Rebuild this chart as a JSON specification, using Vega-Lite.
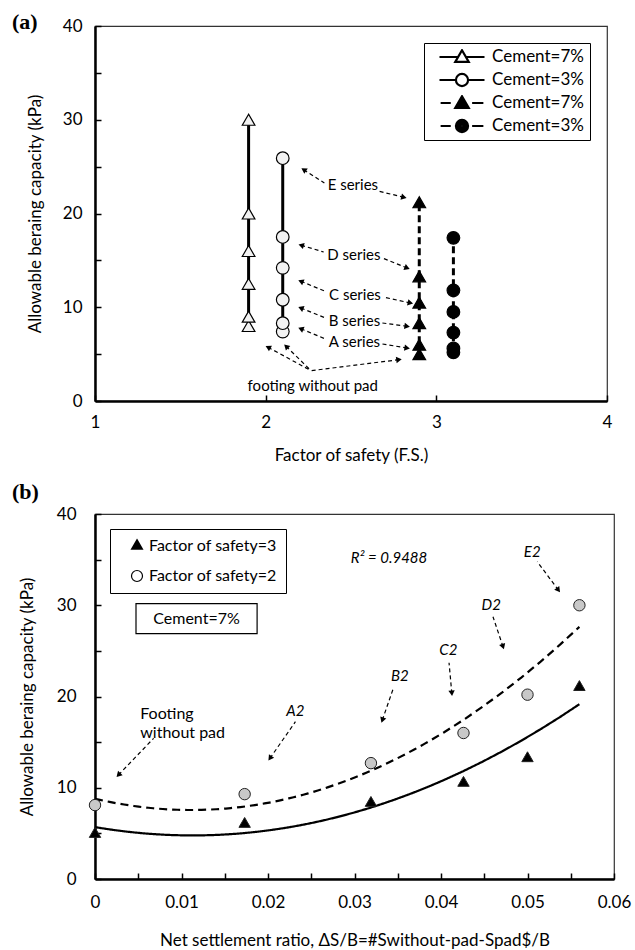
{
  "$schema": "https://vega.github.io/schema/vega-lite/v6.json",
  "background": "white",
  "padding": {"left": 11, "top": 10, "right": 5, "bottom": 5},
  "spacing": 16,
  "config": {
    "font": "Lato",
    "view": {"stroke": "#333333", "strokeWidth": 1.2},
    "axis": {
      "grid": false, "domainColor": "black", "domainWidth": 2.5,
      "tickColor": "black", "tickWidth": 1.5, "tickSize": -6,
      "labelFont": "Lato", "labelFontSize": 17, "labelColor": "black",
      "titleFont": "Lato", "titleFontSize": 17, "titleFontWeight": "normal", "titleColor": "black"
    },
    "legend": {"labelFont": "Lato", "labelColor": "black"}
  },
  "datasets": {
    "a_pts": [
      {"fs": 1.9, "cap": 8, "series": "7%|FS2"},
      {"fs": 1.9, "cap": 9, "series": "7%|FS2"},
      {"fs": 1.9, "cap": 12.5, "series": "7%|FS2"},
      {"fs": 1.9, "cap": 16, "series": "7%|FS2"},
      {"fs": 1.9, "cap": 20, "series": "7%|FS2"},
      {"fs": 1.9, "cap": 30, "series": "7%|FS2"},
      {"fs": 2.1, "cap": 7.4, "series": "3%|FS2"},
      {"fs": 2.1, "cap": 8.3, "series": "3%|FS2"},
      {"fs": 2.1, "cap": 10.8, "series": "3%|FS2"},
      {"fs": 2.1, "cap": 14.2, "series": "3%|FS2"},
      {"fs": 2.1, "cap": 17.5, "series": "3%|FS2"},
      {"fs": 2.1, "cap": 25.9, "series": "3%|FS2"},
      {"fs": 2.9, "cap": 5, "series": "7%|FS3"},
      {"fs": 2.9, "cap": 6, "series": "7%|FS3"},
      {"fs": 2.9, "cap": 8.3, "series": "7%|FS3"},
      {"fs": 2.9, "cap": 10.5, "series": "7%|FS3"},
      {"fs": 2.9, "cap": 13.3, "series": "7%|FS3"},
      {"fs": 2.9, "cap": 21.2, "series": "7%|FS3"},
      {"fs": 3.1, "cap": 5.2, "series": "3%|FS3"},
      {"fs": 3.1, "cap": 5.6, "series": "3%|FS3"},
      {"fs": 3.1, "cap": 7.3, "series": "3%|FS3"},
      {"fs": 3.1, "cap": 9.5, "series": "3%|FS3"},
      {"fs": 3.1, "cap": 11.8, "series": "3%|FS3"},
      {"fs": 3.1, "cap": 17.4, "series": "3%|FS3"}
    ],
    "a_leg": [
      {"leg": "Cement=7%|1"},
      {"leg": "Cement=3%|2"},
      {"leg": "Cement=7%|3"},
      {"leg": "Cement=3%|4"}
    ],
    "b_leg": [
      {"leg": "Factor of safety=3|5"},
      {"leg": "Factor of safety=2|6"}
    ],
    "a_arrows": [
      {"fs": 2.223, "cap": 24.67, "fs2": 2.344, "cap2": 23.25},
      {"fs": 2.810, "cap": 21.73, "fs2": 2.664, "cap2": 22.37},
      {"fs": 2.208, "cap": 16.61, "fs2": 2.340, "cap2": 15.89},
      {"fs": 2.829, "cap": 14.19, "fs2": 2.684, "cap2": 15.25},
      {"fs": 2.206, "cap": 12.77, "fs2": 2.346, "cap2": 11.73},
      {"fs": 2.848, "cap": 10.45, "fs2": 2.689, "cap2": 11.09},
      {"fs": 2.206, "cap": 9.92, "fs2": 2.351, "cap2": 8.85},
      {"fs": 2.829, "cap": 7.97, "fs2": 2.684, "cap2": 8.32},
      {"fs": 2.206, "cap": 7.71, "fs2": 2.351, "cap2": 6.61},
      {"fs": 2.829, "cap": 5.65, "fs2": 2.684, "cap2": 6.08},
      {"fs": 2.014, "cap": 5.73, "fs2": 2.266, "cap2": 3.23},
      {"fs": 2.120, "cap": 5.83, "fs2": 2.266, "cap2": 3.23},
      {"fs": 2.781, "cap": 4.41, "fs2": 2.266, "cap2": 3.23}
    ],
    "a_text": [
      {"fs": 2.511, "cap": 23.0, "label": "E series"},
      {"fs": 2.517, "cap": 15.6, "label": "D series"},
      {"fs": 2.523, "cap": 11.34, "label": "C series"},
      {"fs": 2.520, "cap": 8.5, "label": "B series"},
      {"fs": 2.520, "cap": 6.29, "label": "A series"},
      {"fs": 2.276, "cap": 1.57, "label": "footing without pad"}
    ],
    "b_pts": [
      {"ratio": 0, "cap": 5.1, "group": "Factor of safety=3"},
      {"ratio": 0.0173, "cap": 6.2, "group": "Factor of safety=3"},
      {"ratio": 0.0319, "cap": 8.5, "group": "Factor of safety=3"},
      {"ratio": 0.0426, "cap": 10.7, "group": "Factor of safety=3"},
      {"ratio": 0.05, "cap": 13.4, "group": "Factor of safety=3"},
      {"ratio": 0.056, "cap": 21.2, "group": "Factor of safety=3"},
      {"ratio": 0, "cap": 8.1, "group": "Factor of safety=2"},
      {"ratio": 0.0173, "cap": 9.3, "group": "Factor of safety=2"},
      {"ratio": 0.0319, "cap": 12.7, "group": "Factor of safety=2"},
      {"ratio": 0.0426, "cap": 16.0, "group": "Factor of safety=2"},
      {"ratio": 0.05, "cap": 20.2, "group": "Factor of safety=2"},
      {"ratio": 0.056, "cap": 30.0, "group": "Factor of safety=2"}
    ],
    "b_arrows": [
      {"ratio": 0.00271, "cap": 11.40, "ratio2": 0.00678, "cap2": 15.42},
      {"ratio": 0.02023, "cap": 13.23, "ratio2": 0.02317, "cap2": 17.24},
      {"ratio": 0.03322, "cap": 17.42, "ratio2": 0.03445, "cap2": 20.79},
      {"ratio": 0.04125, "cap": 20.35, "ratio2": 0.04093, "cap2": 23.70},
      {"ratio": 0.04717, "cap": 25.46, "ratio2": 0.04601, "cap2": 28.74},
      {"ratio": 0.05357, "cap": 31.67, "ratio2": 0.05113, "cap2": 34.77}
    ],
    "b_text_it": [
      {"ratio": 0.02317, "cap": 18.44, "label": "A2"},
      {"ratio": 0.03523, "cap": 22.25, "label": "B2"},
      {"ratio": 0.04085, "cap": 25.10, "label": "C2"},
      {"ratio": 0.04581, "cap": 30.03, "label": "D2"},
      {"ratio": 0.05055, "cap": 35.87, "label": "E2"},
      {"ratio": 0.03399, "cap": 35.15, "label": "R² = 0.9488"}
    ],
    "b_text": [
      {"ratio": 0.00523, "cap": 18.08, "label": "Footing\nwithout pad"}
    ],
    "b_box": [
      {"ratio": 0.00474, "ratio2": 0.01874, "cap": 30.17, "cap2": 26.88}
    ],
    "b_box_text": [
      {"ratio": 0.01174, "cap": 28.52, "label": "Cement=7%"}
    ]
  },
  "vconcat": [
    {
      "width": 512,
      "height": 375,
      "title": {"text": "(a)", "anchor": "start", "frame": "group", "orient": "top", "offset": 0, "dx": -83, "dy": 39, "baseline": "bottom", "font": "Liberation Serif", "fontWeight": "bold", "fontSize": 22, "color": "black"},
      "encoding": {
        "x": {"field": "fs", "type": "quantitative", "scale": {"domain": [1, 4], "nice": false, "zero": false},
              "axis": {"values": [1, 2, 3, 4], "format": "d", "title": "Factor of safety (F.S.)", "labelFlush": false, "labelPadding": 19, "titlePadding": 17}},
        "y": {"field": "cap", "type": "quantitative", "scale": {"domain": [0, 40], "nice": false},
              "axis": {"values": [0, 5, 10, 15, 20, 25, 30, 35, 40], "labelExpr": "datum.value % 10 == 0 ? datum.label : ''", "title": "Allowable beraing capacity (kPa)", "labelPadding": 19, "titlePadding": 18}}
      },
      "layer": [
        {
          "data": {"name": "a_pts"},
          "mark": {"type": "line", "color": "black", "strokeWidth": 3},
          "encoding": {
            "detail": {"field": "series", "type": "nominal"},
            "order": {"field": "cap", "type": "quantitative"},
            "strokeDash": {"field": "series", "type": "nominal",
              "scale": {"domain": ["7%|FS2", "3%|FS2", "7%|FS3", "3%|FS3", "Factor of safety=3", "Factor of safety=2"],
                        "range": [[1, 0], [1, 0], [7, 4], [7, 4], [1, 0], [8, 5]]}, "legend": null}
          }
        },
        {
          "data": {"name": "a_pts"},
          "transform": [{"filter": "datum.series == '7%|FS2' || datum.series == '7%|FS3'"}],
          "mark": {"type": "point", "shape": "triangle-up", "filled": true, "opacity": 1, "stroke": "black", "strokeWidth": 1.2, "size": 160},
          "encoding": {
            "color": {"field": "series", "type": "nominal",
              "scale": {"domain": ["7%|FS2", "3%|FS2", "7%|FS3", "3%|FS3"], "range": ["#f2f2f2", "#f2f2f2", "black", "black"]}, "legend": null}
          }
        },
        {
          "data": {"name": "a_pts"},
          "transform": [{"filter": "datum.series == '3%|FS2' || datum.series == '3%|FS3'"}],
          "mark": {"type": "point", "shape": "circle", "filled": true, "opacity": 1, "stroke": "black", "strokeWidth": 1.2, "size": 160},
          "encoding": {
            "color": {"field": "series", "type": "nominal",
              "scale": {"domain": ["7%|FS2", "3%|FS2", "7%|FS3", "3%|FS3"], "range": ["#f2f2f2", "#f2f2f2", "black", "black"]}, "legend": null}
          }
        },
        {
          "data": {"name": "a_leg"},
          "mark": {"type": "point", "filled": false, "opacity": 1, "color": "black", "strokeWidth": 2.2},
          "encoding": {
            "shape": {"field": "leg", "type": "nominal",
              "scale": {"domain": ["Cement=7%|1", "Cement=3%|2", "Cement=7%|3", "Cement=3%|4", "Factor of safety=3|5", "Factor of safety=2|6"],
                        "range": [
                          "M-1,0H-0.18M0.18,0H1M0,-0.3L0.3,0.22L-0.3,0.22Z",
                          "M-1,0H-0.27M0.27,0H1M0.27,0A0.27,0.27,0,1,1,-0.27,0A0.27,0.27,0,1,1,0.27,0Z",
                          "M-0.95,0H-0.5M0.45,0H0.95M0,-0.3L0.3,0.22L-0.3,0.22ZM0,-0.179L0.195,0.159L-0.195,0.159ZM0,-0.074L0.105,0.108L-0.105,0.108ZM0,0.012L0.03,0.064L-0.03,0.064Z",
                          "M-0.95,0H-0.5M0.45,0H0.95M0.27,0A0.27,0.27,0,1,1,-0.27,0A0.27,0.27,0,1,1,0.27,0ZM0.19,0A0.19,0.19,0,1,1,-0.19,0A0.19,0.19,0,1,1,0.19,0ZM0.11,0A0.11,0.11,0,1,1,-0.11,0A0.11,0.11,0,1,1,0.11,0ZM0.04,0A0.04,0.04,0,1,1,-0.04,0A0.04,0.04,0,1,1,0.04,0Z",
                          "M0,-1.155L1,0.577L-1,0.577ZM0,-0.808L0.7,0.404L-0.7,0.404ZM0,-0.462L0.4,0.231L-0.4,0.231ZM0,-0.116L0.1,0.058L-0.1,0.058Z",
                          "M1,0A1,1,0,1,1,-1,0A1,1,0,1,1,1,0Z"
                        ]},
              "legend": {
                "title": null, "orient": "top-right", "offset": 17, "padding": 6,
                "values": ["Cement=7%|1", "Cement=3%|2", "Cement=7%|3", "Cement=3%|4"],
                "strokeColor": "black", "fillColor": "white",
                "symbolSize": 2025, "symbolOffset": 8, "clipHeight": 16, "rowPadding": 6,
                "symbolStrokeWidth": 2.2, "symbolOpacity": 1,
                "labelOffset": 6, "labelFontSize": 17, "labelFont": "Lato", "labelColor": "black",
                "labelExpr": "split(datum.label, '|')[0]"
              }}
          }
        },
        {
          "data": {"name": "a_arrows"},
          "mark": {"type": "rule", "color": "black", "strokeWidth": 1.2, "strokeDash": [4, 3]},
          "encoding": {
            "x2": {"field": "fs2"},
            "y2": {"field": "cap2"}
          }
        },
        {
          "data": {"name": "a_arrows"},
          "transform": [{"calculate": "atan2((datum.fs - datum.fs2) * 170.67, (datum.cap - datum.cap2) * 9.375) * 180 / PI", "as": "ang"}],
          "mark": {"type": "point", "shape": "triangle-up", "filled": true, "color": "black", "size": 40, "opacity": 1},
          "encoding": {
            "angle": {"field": "ang", "type": "quantitative", "scale": null}
          }
        },
        {
          "data": {"name": "a_text"},
          "mark": {"type": "text", "font": "Lato", "fontSize": 15, "color": "black", "align": "center", "baseline": "middle"},
          "encoding": {"text": {"field": "label"}}
        }
      ]
    },
    {
      "width": 519,
      "height": 365,
      "title": {"text": "(b)", "anchor": "start", "frame": "group", "orient": "top", "offset": 0, "dx": -83, "dy": 21, "baseline": "bottom", "font": "Liberation Serif", "fontWeight": "bold", "fontSize": 22, "color": "black"},
      "encoding": {
        "x": {"field": "ratio", "type": "quantitative", "scale": {"domain": [0, 0.06], "nice": false},
              "axis": {"values": [0, 0.005, 0.01, 0.015, 0.02, 0.025, 0.03, 0.035, 0.04, 0.045, 0.05, 0.055, 0.06], "format": ".2~f",
                       "labelExpr": "round(datum.value * 1000) % 10 == 0 ? datum.label : ''", "labelFlush": false,
                       "title": "Net settlement ratio,  ΔS/B=#Swithout-pad-Spad$/B", "labelPadding": 21, "titlePadding": 22}},
        "y": {"field": "cap", "type": "quantitative", "scale": {"domain": [0, 40], "nice": false},
              "axis": {"values": [0, 5, 10, 15, 20, 25, 30, 35, 40], "labelExpr": "datum.value % 10 == 0 ? datum.label : ''", "title": "Allowable beraing capacity (kPa)", "labelPadding": 25, "titlePadding": 20}}
      },
      "layer": [
        {
          "data": {"name": "b_pts"},
          "transform": [{"regression": "cap", "on": "ratio", "groupby": ["group"], "method": "poly", "order": 2, "extent": [0, 0.056]}],
          "mark": {"type": "line", "color": "black", "strokeWidth": 2.2},
          "encoding": {
            "strokeDash": {"field": "group", "type": "nominal",
              "scale": {"domain": ["7%|FS2", "3%|FS2", "7%|FS3", "3%|FS3", "Factor of safety=3", "Factor of safety=2"],
                        "range": [[1, 0], [1, 0], [7, 4], [7, 4], [1, 0], [8, 5]]}, "legend": null}
          }
        },
        {
          "data": {"name": "b_pts"},
          "transform": [{"filter": "datum.group == 'Factor of safety=3'"}],
          "mark": {"type": "point", "shape": "triangle-up", "filled": true, "opacity": 1, "fill": "black", "stroke": "#222222", "strokeWidth": 1, "size": 130}
        },
        {
          "data": {"name": "b_pts"},
          "transform": [{"filter": "datum.group == 'Factor of safety=2'"}],
          "mark": {"type": "point", "shape": "circle", "filled": true, "opacity": 1, "fill": "#c8c8c8", "stroke": "#222222", "strokeWidth": 1, "size": 130}
        },
        {
          "data": {"name": "b_leg"},
          "mark": {"type": "point", "filled": false, "opacity": 1, "color": "black", "strokeWidth": 1.2},
          "encoding": {
            "shape": {"field": "leg", "type": "nominal",
              "legend": {"title": null, "orient": "top-left", "offset": 15, "padding": 9, "strokeColor": "black", "fillColor": "white",
                         "values": ["Factor of safety=3|5", "Factor of safety=2|6"],
                         "symbolSize": 121, "symbolOffset": 10, "rowPadding": 14, "labelOffset": 4, "labelFontSize": 16, "labelFont": "Lato", "labelColor": "black",
                         "symbolFillColor": "#c8c8c8", "symbolStrokeWidth": 1.2, "symbolOpacity": 1,
                         "labelExpr": "split(datum.label, '|')[0]"}}
          }
        },
        {
          "data": {"name": "b_arrows"},
          "mark": {"type": "rule", "color": "black", "strokeWidth": 1.2, "strokeDash": [4, 3]},
          "encoding": {
            "x2": {"field": "ratio2"},
            "y2": {"field": "cap2"}
          }
        },
        {
          "data": {"name": "b_arrows"},
          "transform": [{"calculate": "atan2((datum.ratio - datum.ratio2) * 8650, (datum.cap - datum.cap2) * 9.125) * 180 / PI", "as": "ang"}],
          "mark": {"type": "point", "shape": "triangle-up", "filled": true, "color": "black", "size": 40, "opacity": 1},
          "encoding": {
            "angle": {"field": "ang", "type": "quantitative", "scale": null}
          }
        },
        {
          "data": {"name": "b_text_it"},
          "mark": {"type": "text", "font": "Lato", "fontSize": 15, "fontStyle": "italic", "color": "black", "align": "center", "baseline": "middle"},
          "encoding": {"text": {"field": "label"}}
        },
        {
          "data": {"name": "b_text"},
          "mark": {"type": "text", "font": "Lato", "fontSize": 16, "color": "black", "align": "left", "baseline": "middle", "lineBreak": "\n", "lineHeight": 19},
          "encoding": {"text": {"field": "label"}}
        },
        {
          "data": {"name": "b_box"},
          "mark": {"type": "rect", "fill": "white", "stroke": "black", "strokeWidth": 1.2},
          "encoding": {
            "x2": {"field": "ratio2"},
            "y2": {"field": "cap2"}
          }
        },
        {
          "data": {"name": "b_box_text"},
          "mark": {"type": "text", "font": "Lato", "fontSize": 16, "color": "black", "align": "center", "baseline": "middle"},
          "encoding": {"text": {"field": "label"}}
        }
      ]
    }
  ]
}
